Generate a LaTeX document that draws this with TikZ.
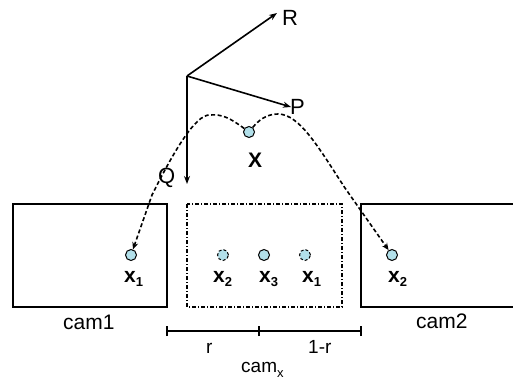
\documentclass[tikz,border=0pt]{standalone}
\usepackage{fontspec}
\setmainfont{Liberation Sans}
\usetikzlibrary{arrows.meta}

\definecolor{ptfill}{RGB}{178,224,234}
\newcommand{\lbl}[1]{\fontsize{#1}{#1}\selectfont}
\newcommand{\pt}[1]{\textbf{x}{\lbl{13}\raisebox{-4pt}{\textbf{#1}}}}

\tikzset{
  camframe/.style={draw, line width=1.5pt},
  virtframe/.style={draw, line width=1.3pt, dash pattern=on 4pt off 2pt on 1pt off 2pt},
  imgpt/.style={circle, draw, line width=1pt, fill=ptfill, minimum size=11pt, inner sep=0pt},
  ghostpt/.style={imgpt, densely dashed},
  ray/.style={line width=1.6pt, dash pattern=on 4pt off 2.5pt, -{Stealth[length=7pt,width=6pt]}},
  axis/.style={line width=1.6pt, -{Stealth[length=8pt,width=6pt]}},
  txt/.style={inner sep=0pt, anchor=base west, font=\lbl{21}},
}

\begin{document}
\begin{tikzpicture}[x=1pt, y=-1pt]
  \useasboundingbox (0,0) rectangle (513,379);

  % camera frames
  \draw[camframe] (13,204) rectangle (167,307);
  \draw[virtframe] (187,204) rectangle (342,307);
  \draw[camframe] (513,204) -- (361,204) -- (361,307) -- (513,307);
  \node[txt] (cam1) at (63,329) {cam1};
  \node[txt] (cam2) at (416,328) {cam2};

  % image points
  \node[imgpt] (p1) at (131,255) {};
  \node[ghostpt] (v2) at (223,255) {};
  \node[imgpt] (v3) at (264,255) {};
  \node[ghostpt] (v1) at (305,255) {};
  \node[imgpt] (p2) at (392,255) {};
  \node[txt] (l1) at (124,282) {\pt{1}};
  \node[txt] (lv2) at (213,282) {\pt{2}};
  \node[txt] (lv3) at (259,282) {\pt{3}};
  \node[txt] (lv1) at (302,282) {\pt{1}};
  \node[txt] (l2) at (388,282) {\pt{2}};

  % scene point
  \node[imgpt] (X) at (249,132) {};
  \node[txt] (Xl) at (248,168) {\textbf{X}};

  % projection rays
  \draw[ray] (X) .. controls (230,118) and (222,114) .. (210,115)
    .. controls (195,114) and (172,155) .. (152,195) -- (p1);
  \draw[ray] (X) .. controls (258,121) and (266,114) .. (278,114)
    .. controls (300,114) and (320,150) .. (345,188) -- (p2);

  % pose axes
  \coordinate (O) at (187,76);
  \coordinate (Rend) at (277,13);
  \coordinate (Pend) at (291,107);
  \coordinate (Qend) at (187,184);
  \draw[axis] (O) -- (Rend);
  \draw[axis] (O) -- (Pend);
  \draw[axis] (O) -- (Qend);
  \node[txt, font=\lbl{22}] (R) at (282,26) {R};
  \node[txt, font=\lbl{22}] (P) at (290,115) {P};
  \node[txt, font=\lbl{22}] (Q) at (158,184) {Q};

  % baseline ratio
  \coordinate (b1) at (167,331);
  \coordinate (bm) at (259,331);
  \coordinate (b2) at (361,331);
  \draw[line width=1.1pt] (b1) -- (b2);
  \foreach \t in {b1,bm,b2}
    \draw[line width=1.1pt] ([yshift=-5pt]\t) -- ([yshift=5pt]\t);
  \node[txt, font=\lbl{19}] (r) at (206,353) {r};
  \node[txt, font=\lbl{19}] (rr) at (308,353) {1-r};
  \node[txt, font=\lbl{19}] (camx) at (241,372) {cam{\lbl{13}\raisebox{-5pt}{x}}};
\end{tikzpicture}
\end{document}
